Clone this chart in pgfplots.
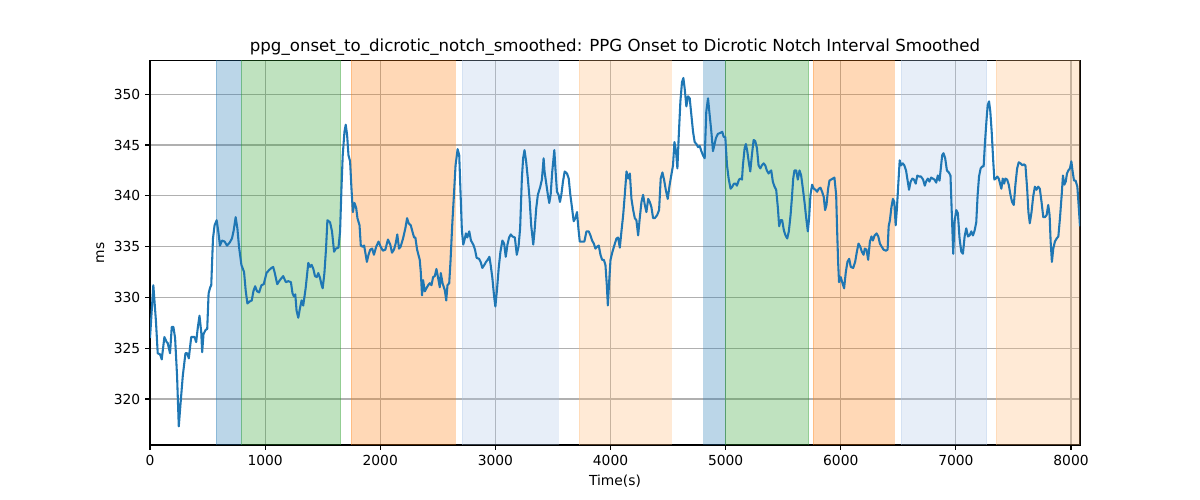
\documentclass[border=0pt]{standalone}
\usepackage{fontspec}
\setmainfont{DejaVu Sans}
\usepackage{pgfplots}
\pgfplotsset{compat=1.18}
\definecolor{tabblue}{HTML}{1F77B4}
\definecolor{tabgreen}{HTML}{2CA02C}
\definecolor{taborange}{HTML}{FF7F0E}
\definecolor{lblue}{HTML}{AEC7E8}
\definecolor{lorange}{HTML}{FFBB78}
\definecolor{gridgray}{HTML}{B0B0B0}
\begin{document}
\begin{tikzpicture}[x=0.7227pt,y=0.7227pt]
\begin{axis}[
  at={(0,0)}, anchor=south west,
  scale only axis,
  width=672.1pt, height=277.7pt,
  xmin=0, xmax=8078, ymin=315.47, ymax=353.3,
  xtick={0,1000,...,8000},
  ytick={320,325,...,350},
  /pgf/number format/1000 sep={},
  /pgf/number format/assume math mode=true,
  ticklabel style={font=\fontsize{10}{12}\selectfont},
  label style={font=\fontsize{10}{12}\selectfont},
  title style={font=\fontsize{12}{14}\selectfont, yshift=-5.5pt},
  title={ppg\_onset\_to\_dicrotic\_notch\_smoothed: PPG Onset to Dicrotic Notch Interval Smoothed},
  xlabel={Time(s)}, ylabel={ms},
  grid=major,
  major grid style={color=gridgray, line width=0.8pt},
  axis line style={line width=0.8pt},
  tick align=outside, xtick pos=bottom, ytick pos=left,
  major tick length=3.5pt,
  tick style={black, line width=0.8pt},
  clip=true,
]
\addplot[fill=tabblue, fill opacity=0.3, draw=tabblue, draw opacity=0.3] coordinates {(573,300)(573,360)(791,360)(791,300)} -- cycle;
\addplot[fill=tabgreen, fill opacity=0.3, draw=tabgreen, draw opacity=0.3] coordinates {(791,300)(791,360)(1657,360)(1657,300)} -- cycle;
\addplot[fill=taborange, fill opacity=0.3, draw=taborange, draw opacity=0.3] coordinates {(1747,300)(1747,360)(2648,360)(2648,300)} -- cycle;
\addplot[fill=lblue, fill opacity=0.3, draw=lblue, draw opacity=0.3] coordinates {(2709,300)(2709,360)(3544,360)(3544,300)} -- cycle;
\addplot[fill=lorange, fill opacity=0.3, draw=lorange, draw opacity=0.3] coordinates {(3730,300)(3730,360)(4529,360)(4529,300)} -- cycle;
\addplot[fill=tabblue, fill opacity=0.3, draw=tabblue, draw opacity=0.3] coordinates {(4809,300)(4809,360)(4997,360)(4997,300)} -- cycle;
\addplot[fill=tabgreen, fill opacity=0.3, draw=tabgreen, draw opacity=0.3] coordinates {(4997,300)(4997,360)(5720,360)(5720,300)} -- cycle;
\addplot[fill=taborange, fill opacity=0.3, draw=taborange, draw opacity=0.3] coordinates {(5760,300)(5760,360)(6465,360)(6465,300)} -- cycle;
\addplot[fill=lblue, fill opacity=0.3, draw=lblue, draw opacity=0.3] coordinates {(6523,300)(6523,360)(7267,360)(7267,300)} -- cycle;
\addplot[fill=lorange, fill opacity=0.3, draw=lorange, draw opacity=0.3] coordinates {(7352,300)(7352,360)(8100,360)(8100,300)} -- cycle;
\addplot[color=tabblue, line width=1.5pt, line join=round] coordinates {
(0,326.0)(29,331.2)(52,327.6)(67,324.5)(87,324.4)(102,323.9)(125,326.1)(145,325.6)(154,325.5)(174,324.5)
(189,327.1)(203,327.1)(218,326.0)(235,322.3)(250,317.3)(265,319.5)(285,322.3)(308,324.5)(323,324.5)(337,324.0)
(358,326.1)(387,326.1)(401,325.6)(416,327.1)(430,328.2)(445,326.6)(453,324.6)(465,326.4)(483,326.8)(497,326.9)
(509,330.4)(523,331.0)(532,331.2)(547,335.8)(561,337.1)(579,337.6)(593,336.5)(608,335.1)(625,335.6)(648,335.5)
(669,335.1)(692,335.4)(712,335.8)(727,336.6)(744,337.9)(759,336.8)(773,335.0)(794,333.2)(817,332.5)(831,330.7)
(846,329.4)(866,329.6)(884,329.7)(898,330.6)(913,331.1)(930,330.6)(948,330.5)(968,331.2)(988,331.3)(1012,332.4)
(1035,332.7)(1055,332.9)(1070,333.0)(1084,332.4)(1105,331.3)(1128,331.7)(1157,332.1)(1180,331.5)(1201,331.6)(1224,331.5)
(1238,330.4)(1250,330.1)(1262,330.3)(1273,328.7)(1288,328.0)(1302,328.9)(1317,329.7)(1331,329.2)(1352,330.9)(1375,333.4)
(1390,333.0)(1404,333.2)(1419,332.8)(1433,332.1)(1448,332.0)(1462,332.4)(1477,331.9)(1491,331.2)(1500,330.9)(1515,332.4)
(1529,334.8)(1541,337.6)(1564,337.4)(1581,336.5)(1599,334.5)(1613,334.8)(1637,334.9)(1651,336.5)(1663,340.7)(1674,344.0)
(1689,346.3)(1700,347.0)(1712,346.0)(1724,344.0)(1738,343.4)(1750,340.7)(1762,338.4)(1776,339.3)(1791,338.8)(1802,337.8)
(1820,337.1)(1831,335.1)(1846,335.0)(1860,335.1)(1869,334.5)(1884,333.5)(1898,334.2)(1913,334.7)(1930,334.8)(1945,334.2)
(1965,335.0)(1985,335.5)(2003,335.0)(2023,334.6)(2044,334.7)(2067,335.7)(2087,335.2)(2102,334.4)(2119,334.7)(2134,335.3)
(2148,336.2)(2163,334.8)(2177,335.0)(2198,335.8)(2218,336.8)(2233,337.8)(2247,337.3)(2265,337.1)(2279,336.5)(2294,335.9)
(2305,335.9)(2320,334.7)(2343,333.7)(2352,332.5)(2363,330.2)(2372,331.7)(2387,330.6)(2401,330.9)(2416,331.2)(2430,331.4)
(2445,331.2)(2459,332.0)(2474,332.1)(2488,332.8)(2503,331.9)(2517,331.0)(2526,332.4)(2541,331.4)(2561,330.7)(2573,329.7)
(2584,331.2)(2599,331.4)(2610,333.5)(2625,337.1)(2640,340.1)(2654,343.0)(2672,344.6)(2686,344.0)(2698,340.1)(2709,336.6)
(2721,335.2)(2735,335.8)(2744,336.3)(2756,335.9)(2773,336.5)(2788,335.6)(2808,335.2)(2823,334.7)(2837,333.9)(2858,333.8)
(2872,333.5)(2887,332.9)(2904,333.2)(2919,333.5)(2933,333.7)(2948,334.0)(2959,333.2)(2974,331.9)(2988,330.2)(3000,329.1)
(3015,330.9)(3029,332.9)(3044,334.5)(3061,335.6)(3076,335.3)(3090,334.0)(3105,335.2)(3119,335.9)(3134,336.2)(3148,336.0)
(3169,335.9)(3186,334.2)(3201,335.0)(3215,336.8)(3230,341.7)(3241,343.7)(3253,344.5)(3267,343.4)(3282,341.7)(3297,339.7)
(3311,337.1)(3329,335.2)(3340,336.5)(3355,338.8)(3369,340.1)(3390,340.9)(3404,341.6)(3419,343.7)(3427,342.4)(3442,341.2)
(3456,340.1)(3468,339.3)(3480,340.1)(3494,342.4)(3512,344.5)(3523,342.4)(3535,340.4)(3549,340.1)(3561,339.4)(3573,340.1)
(3587,341.4)(3602,342.4)(3622,342.2)(3637,341.7)(3651,340.1)(3666,338.8)(3680,337.5)(3695,337.8)(3709,338.4)(3721,336.8)
(3733,335.5)(3753,335.5)(3773,335.5)(3791,336.5)(3811,336.5)(3826,336.1)(3840,335.6)(3855,335.3)(3869,334.8)(3884,335.0)
(3898,335.1)(3913,334.2)(3927,333.7)(3942,333.7)(3956,333.2)(3968,331.2)(3977,329.2)(3988,331.5)(4000,333.7)(4017,334.5)
(4038,335.3)(4052,335.8)(4066,335.9)(4081,334.9)(4095,336.5)(4110,338.1)(4124,340.1)(4139,342.4)(4153,341.7)(4168,342.2)
(4182,339.7)(4197,338.6)(4211,337.8)(4225,337.6)(4240,336.1)(4254,337.8)(4269,339.4)(4283,340.1)(4298,339.1)(4312,338.4)
(4327,339.7)(4341,339.4)(4355,338.9)(4370,337.8)(4384,337.8)(4405,338.1)(4422,338.6)(4436,341.7)(4451,342.3)(4465,341.6)
(4480,340.6)(4497,339.7)(4514,341.1)(4529,342.1)(4543,343.0)(4555,345.3)(4569,344.4)(4581,342.7)(4592,345.7)(4607,349.3)
(4621,351.2)(4633,351.6)(4644,350.6)(4659,348.8)(4673,349.8)(4688,349.6)(4702,348.0)(4717,346.3)(4731,345.3)(4746,345.1)
(4760,344.8)(4775,344.9)(4789,344.4)(4803,344.0)(4818,343.7)(4832,348.3)(4847,349.6)(4861,348.0)(4876,346.3)(4890,344.4)
(4902,345.0)(4916,345.7)(4933,346.1)(4954,346.2)(4971,346.3)(4983,345.8)(4997,345.8)(5012,343.0)(5026,341.7)(5043,340.7)
(5058,340.9)(5072,341.2)(5087,341.2)(5098,341.0)(5116,341.6)(5130,341.7)(5142,341.6)(5150,343.0)(5165,344.7)(5176,345.1)
(5188,344.4)(5200,343.4)(5214,342.4)(5228,344.0)(5243,345.5)(5257,345.4)(5272,344.7)(5286,343.0)(5301,342.7)(5315,343.0)
(5330,343.2)(5344,343.0)(5358,342.5)(5373,342.2)(5387,342.4)(5396,342.5)(5410,341.4)(5425,340.9)(5439,340.6)(5454,338.8)
(5465,337.0)(5477,337.6)(5491,337.6)(5506,336.6)(5520,336.1)(5535,335.8)(5549,336.5)(5564,338.1)(5575,339.7)(5587,341.7)
(5598,342.5)(5613,342.5)(5627,341.6)(5642,342.5)(5656,342.0)(5671,340.7)(5685,339.4)(5700,337.8)(5714,336.5)(5725,337.8)
(5737,340.1)(5751,341.1)(5766,340.7)(5780,340.6)(5795,340.4)(5809,340.7)(5824,340.8)(5838,340.4)(5852,339.9)(5864,338.6)
(5876,339.1)(5890,340.7)(5902,341.5)(5916,341.6)(5931,341.7)(5945,341.8)(5960,340.1)(5968,336.8)(5977,333.5)(5985,331.5)
(6000,332.0)(6015,331.4)(6029,330.9)(6044,332.5)(6058,333.5)(6073,333.8)(6087,333.0)(6108,332.9)(6125,333.5)(6140,334.5)
(6154,335.3)(6169,335.0)(6183,334.5)(6198,334.2)(6209,334.8)(6224,334.7)(6238,333.7)(6253,335.5)(6267,336.0)(6279,335.6)
(6294,336.1)(6311,336.3)(6326,336.0)(6340,335.3)(6355,335.0)(6372,334.7)(6392,334.6)(6407,334.7)(6416,337.0)(6427,337.6)
(6439,338.8)(6453,339.7)(6465,339.4)(6477,337.1)(6488,338.8)(6500,341.2)(6512,343.5)(6523,343.0)(6538,343.2)(6552,343.0)
(6567,342.5)(6578,341.7)(6593,340.6)(6607,341.4)(6622,341.7)(6636,341.6)(6651,341.2)(6665,342.0)(6680,341.9)(6697,341.9)
(6715,341.6)(6730,341.0)(6741,341.4)(6756,341.7)(6770,341.4)(6785,341.8)(6799,341.7)(6814,341.6)(6829,341.3)(6843,342.0)
(6858,341.5)(6869,342.7)(6881,344.0)(6892,344.2)(6907,343.7)(6922,342.5)(6939,342.3)(6953,342.0)(6965,338.1)(6977,334.3)
(6988,337.4)(7003,338.6)(7017,338.3)(7032,335.8)(7047,334.5)(7061,334.3)(7076,336.0)(7090,336.8)(7105,336.0)(7119,336.1)
(7134,336.5)(7148,336.1)(7163,336.6)(7177,337.4)(7189,340.1)(7201,341.9)(7215,342.7)(7230,342.9)(7241,342.9)(7253,345.3)
(7265,347.3)(7276,348.9)(7288,349.3)(7299,348.3)(7311,346.3)(7323,343.7)(7334,341.6)(7346,341.7)(7360,341.9)(7372,341.7)
(7384,341.2)(7395,340.7)(7407,341.7)(7419,341.2)(7430,341.7)(7445,341.6)(7459,341.1)(7474,340.1)(7488,339.4)(7503,339.1)
(7517,341.1)(7532,342.7)(7546,343.3)(7561,343.2)(7578,343.0)(7590,343.1)(7604,343.0)(7619,340.7)(7630,338.4)(7642,337.3)
(7657,338.4)(7671,339.9)(7686,340.9)(7700,340.6)(7715,340.9)(7729,340.7)(7744,339.4)(7759,337.9)(7773,337.9)(7788,338.1)
(7802,339.1)(7814,338.1)(7823,335.5)(7834,333.5)(7846,334.8)(7860,335.5)(7875,335.8)(7890,336.0)(7904,337.8)(7919,340.1)
(7930,342.0)(7942,341.1)(7954,341.4)(7965,342.2)(7977,342.5)(7991,342.7)(8003,343.4)(8014,342.4)(8026,341.5)(8040,341.5)
(8055,340.9)(8066,339.1)(8078,337.0)
};
\end{axis}
\pgfresetboundingbox
\path (-150,-55) rectangle (1050,445);
\end{tikzpicture}
\end{document}
